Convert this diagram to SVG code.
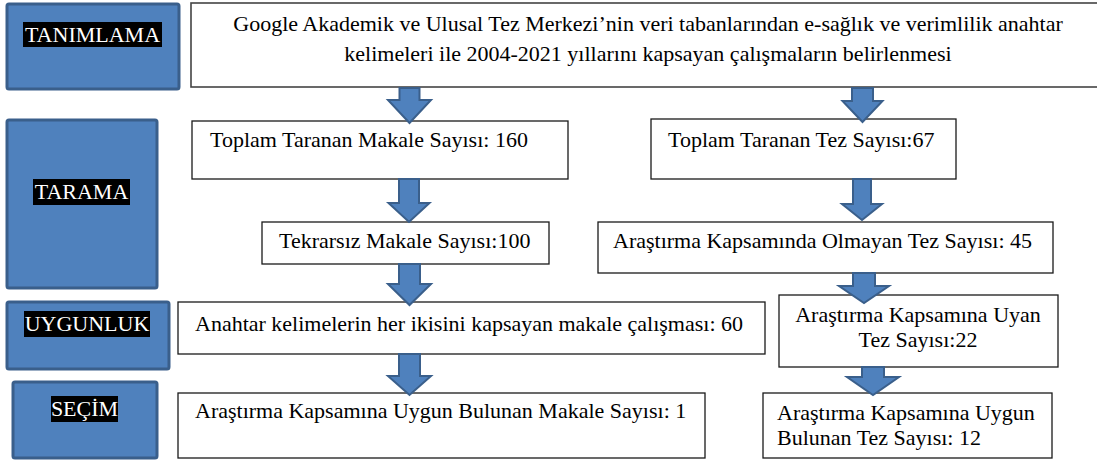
<svg xmlns="http://www.w3.org/2000/svg" width="1097" height="461" viewBox="0 0 1097 461">
<style>
  .lab { fill:#4F81BD; stroke:#3A5F8B; stroke-width:3; }
  .box { fill:#FFFFFF; stroke:#1a1a1a; stroke-width:1.3; }
  .t { font-family:"Liberation Serif","Times New Roman",serif; font-size:22px; fill:#000; }
  .lt { font-family:"Liberation Serif","Times New Roman",serif; font-size:22px; fill:#FFFFFF; text-anchor:middle; }
  .bg { fill:#000000; }
  .c { text-anchor:middle; }
  .arr { fill:#4F81BD; stroke:#3A5F8B; stroke-width:2; stroke-linejoin:miter; }
</style>
<rect width="1097" height="461" fill="#FFFFFF"/>

<g id="label-tanimlama">
  <rect class="lab" x="7" y="4" width="172" height="85" rx="2"/>
  <rect class="bg" x="23" y="22" width="139" height="25"/>
  <text class="lt" x="92.5" y="42">TANIMLAMA</text>
</g>
<g id="label-tarama">
  <rect class="lab" x="7" y="120" width="150" height="168" rx="2"/>
  <rect class="bg" x="33" y="179" width="97" height="26"/>
  <text class="lt" x="81.5" y="199">TARAMA</text>
</g>
<g id="label-uygunluk">
  <rect class="lab" x="7" y="302" width="162" height="67" rx="2"/>
  <rect class="bg" x="24" y="311" width="126" height="26"/>
  <text class="lt" x="87" y="331">UYGUNLUK</text>
</g>
<g id="label-secim">
  <rect class="lab" x="13" y="382" width="144" height="76" rx="2"/>
  <rect class="bg" x="51" y="396" width="67" height="26"/>
  <text class="lt" x="84.5" y="416">SEÇİM</text>
</g>

<g id="node-tanim">
  <rect class="box" x="191" y="3" width="912" height="84" style="stroke:#444;stroke-width:1.6"/>
  <text class="t c" x="648" y="31">Google Akademik ve Ulusal Tez Merkezi’nin veri tabanlarından e-sağlık ve verimlilik anahtar</text>
  <text class="t c" x="648" y="61">kelimeleri ile 2004-2021 yıllarını kapsayan çalışmaların belirlenmesi</text>
</g>

<g id="node-makale-toplam">
  <rect class="box" x="192" y="121" width="376" height="58"/>
  <text class="t" x="210" y="147">Toplam Taranan Makale Sayısı: 160</text>
</g>
<g id="node-makale-tekrarsiz">
  <rect class="box" x="262" y="222" width="287" height="42"/>
  <text class="t" x="279" y="248">Tekrarsız Makale Sayısı:100</text>
</g>
<g id="node-makale-anahtar">
  <rect class="box" x="178" y="302" width="587" height="52"/>
  <text class="t" x="195" y="331">Anahtar kelimelerin her ikisini kapsayan makale çalışması: 60</text>
</g>
<g id="node-makale-uygun">
  <rect class="box" x="178" y="393" width="527" height="65"/>
  <text class="t" x="195" y="418">Araştırma Kapsamına Uygun Bulunan Makale Sayısı: 1</text>
</g>

<g id="node-tez-toplam">
  <rect class="box" x="651" y="119" width="305" height="60"/>
  <text class="t" x="668" y="147">Toplam Taranan Tez Sayısı:67</text>
</g>
<g id="node-tez-olmayan">
  <rect class="box" x="598" y="222" width="455" height="51"/>
  <text class="t" x="613" y="248">Araştırma Kapsamında Olmayan Tez Sayısı: 45</text>
</g>
<g id="node-tez-uyan">
  <rect class="box" x="779" y="295" width="279" height="72"/>
  <text class="t c" x="918" y="322">Araştırma Kapsamına Uyan</text>
  <text class="t c" x="918" y="347">Tez Sayısı:22</text>
</g>
<g id="node-tez-uygun">
  <rect class="box" x="763" y="393" width="289" height="65"/>
  <text class="t" x="777" y="420">Araştırma Kapsamına Uygun</text>
  <text class="t" x="777" y="445">Bulunan Tez Sayısı: 12</text>
</g>

<g id="connectors">
  <path class="arr" d="M399.5,88 H419.5 V100 H431 L409.5,123 L388,100 H399.5 Z"/>
  <path class="arr" d="M852,88 H873 V101 H882.5 L862.5,122 L842.5,101 H852 Z"/>
  <path class="arr" d="M399,179 H419 V203 H429.5 L409,222 L388.5,203 H399 Z"/>
  <path class="arr" d="M853,179 H871 V204 H882 L862,220 L842,204 H853 Z"/>
  <path class="arr" d="M399,264 H420 V284 H431 L409.5,305 L388,284 H399 Z"/>
  <path class="arr" d="M853,273 H875 V286 H889 L864,303 L839,286 H853 Z"/>
  <path class="arr" d="M399,354 H420 V376 H431 L409.5,395 L388,376 H399 Z"/>
  <path class="arr" d="M862,367 H884 V377 H899 L873,395 L847,377 H862 Z"/>
</g>
</svg>
